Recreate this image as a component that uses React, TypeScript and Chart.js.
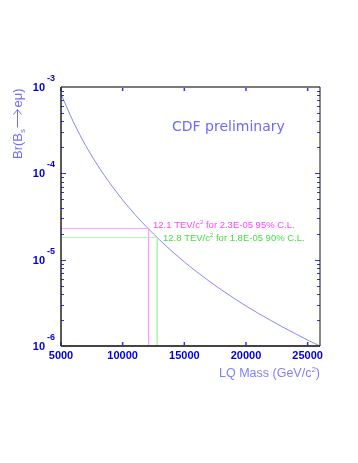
import React, { useEffect, useRef } from "react";
import { Chart, registerables } from "chart.js";

Chart.register(...registerables);

// LQ mass (GeV/c^2) and branching-ratio limit curve
const massGeV = [5000, 6000, 7000, 8000, 9000, 10000, 11000, 12000, 13000, 14000, 15000, 16000, 17000, 18000, 19000, 20000, 21000, 22000, 23000, 24000, 25000, 26000];
const brLimit = [8.3e-4, 3.95e-4, 2.1e-4, 1.22e-4, 7.56e-5, 4.92e-5, 3.33e-5, 2.34e-5, 1.69e-5, 1.25e-5, 9.41e-6, 7.24e-6, 5.65e-6, 4.48e-6, 3.59e-6, 2.91e-6, 2.39e-6, 1.98e-6, 1.65e-6, 1.39e-6, 1.17e-6, 1.0e-6];

// Limits
const limit95 = { mass: 12100, br: 2.3e-5 };
const limit90 = { mass: 12800, br: 1.8e-5 };

// Axis ticks
const xTicks = [5000, 10000, 15000, 20000, 25000];
const xTickLabels = ["5000", "10000", "15000", "20000", "25000"];
const yExponents = [-6, -5, -4, -3];

const X_MIN = 5000;
const X_MAX = 26000;
const Y_MIN = 1e-6;
const Y_MAX = 1e-3;

const TICK_BLUE = "#2f2fff";
const LABEL_BLUE = "#0000dd";

const decorPlugin = {
  id: "decor",
  afterDraw(chart: any) {
    const ctx: CanvasRenderingContext2D = chart.ctx;
    const xs = chart.scales.x;
    const ys = chart.scales.y;
    const { left, right, top, bottom } = chart.chartArea;
    ctx.save();

    // ticks
    ctx.strokeStyle = TICK_BLUE;
    ctx.lineWidth = 1;
    for (const e of yExponents) {
      for (let m = 1; m <= 9; m++) {
        if (e === -3 && m > 1) break;
        const v = m * Math.pow(10, e);
        const py = Math.round(ys.getPixelForValue(v)) + 0.5;
        const len = m === 1 ? 5 : 3;
        ctx.beginPath();
        ctx.moveTo(left, py);
        ctx.lineTo(left + len, py);
        ctx.moveTo(right, py);
        ctx.lineTo(right - len, py);
        ctx.stroke();
      }
    }
    ctx.lineWidth = 1.5;
    for (const t of xTicks) {
      const px = xs.getPixelForValue(t);
      ctx.beginPath();
      ctx.moveTo(px, bottom);
      ctx.lineTo(px, bottom - 4);
      ctx.moveTo(px, top);
      ctx.lineTo(px, top + 4);
      ctx.stroke();
    }

    // frame
    ctx.lineWidth = 2;
    ctx.strokeStyle = "#7a7a7a";
    ctx.beginPath();
    ctx.moveTo(left, top);
    ctx.lineTo(right, top);
    ctx.stroke();
    ctx.strokeStyle = "#444";
    ctx.beginPath();
    ctx.moveTo(left, bottom);
    ctx.lineTo(right, bottom);
    ctx.stroke();
    ctx.lineWidth = 1.5;
    ctx.strokeStyle = "#222";
    ctx.beginPath();
    ctx.moveTo(left, top);
    ctx.lineTo(left, bottom);
    ctx.stroke();
    ctx.lineWidth = 1;
    ctx.strokeStyle = "#111";
    ctx.beginPath();
    ctx.moveTo(right, top);
    ctx.lineTo(right, bottom);
    ctx.stroke();

    // y tick labels
    ctx.fillStyle = LABEL_BLUE;
    for (const e of yExponents) {
      const py = ys.getPixelForValue(Math.pow(10, e));
      ctx.font = "bold 11px 'Liberation Sans', Arial, sans-serif";
      ctx.textAlign = "right";
      ctx.textBaseline = "middle";
      ctx.fillText("10", 45, py + 1);
      ctx.font = "bold 9px 'Liberation Sans', Arial, sans-serif";
      ctx.textAlign = "left";
      ctx.textBaseline = "alphabetic";
      ctx.fillText(String(e), 47, py - 6);
    }
    // x tick labels
    ctx.font = "bold 11px 'Liberation Sans', Arial, sans-serif";
    ctx.textAlign = "center";
    ctx.textBaseline = "middle";
    xTicks.forEach((t, i) => {
      ctx.fillText(xTickLabels[i], xs.getPixelForValue(t), bottom + 10);
    });

    // x axis title
    ctx.fillStyle = "#7f7fff";
    ctx.textAlign = "left";
    ctx.textBaseline = "alphabetic";
    const t1 = "LQ Mass (GeV/c";
    const t2 = ")";
    ctx.font = "8px 'Liberation Sans', Arial, sans-serif";
    const supW = ctx.measureText("2").width;
    ctx.font = "12.5px 'Liberation Sans', Arial, sans-serif";
    const w1 = ctx.measureText(t1).width;
    const w2 = ctx.measureText(t2).width;
    const total = w1 + supW + w2;
    const x0 = right - total;
    const by = bottom + 31;
    ctx.fillText(t1, x0, by);
    ctx.font = "8px 'Liberation Sans', Arial, sans-serif";
    ctx.fillText("2", x0 + w1, by - 5);
    ctx.font = "12.5px 'Liberation Sans', Arial, sans-serif";
    ctx.fillText(t2, x0 + w1 + supW, by);

    // y axis title (rotated)
    ctx.save();
    ctx.translate(22, 159);
    ctx.rotate(-Math.PI / 2);
    ctx.fillStyle = "#7070ff";
    ctx.strokeStyle = "#7070ff";
    ctx.font = "13px 'Liberation Sans', Arial, sans-serif";
    let cx = 0;
    ctx.fillText("Br(B", cx, 0);
    cx += ctx.measureText("Br(B").width;
    ctx.font = "8px 'Liberation Sans', Arial, sans-serif";
    ctx.fillText("s", cx, 3);
    cx += ctx.measureText("s").width + 1.5;
    // arrow
    ctx.lineWidth = 1;
    ctx.beginPath();
    ctx.moveTo(cx, -4.5);
    ctx.lineTo(cx + 18, -4.5);
    ctx.moveTo(cx + 13, -8.5);
    ctx.lineTo(cx + 18, -4.5);
    ctx.lineTo(cx + 13, -0.5);
    ctx.stroke();
    cx += 20;
    ctx.font = "13px 'Liberation Sans', Arial, sans-serif";
    ctx.fillText("e\u03bc)", cx, 0);
    ctx.restore();

    // CDF preliminary
    ctx.fillStyle = "#6a6aff";
    ctx.font = "14px 'DejaVu Sans', sans-serif";
    ctx.textAlign = "left";
    ctx.textBaseline = "middle";
    ctx.fillText("CDF preliminary", 172, 127);

    // limit annotations
    const drawNote = (color: string, x: number, y: number, a: string, b: string) => {
      ctx.fillStyle = color;
      ctx.textBaseline = "middle";
      ctx.font = "9.5px 'Liberation Sans', Arial, sans-serif";
      ctx.fillText(a, x, y);
      const wa = ctx.measureText(a).width;
      ctx.font = "6px 'Liberation Sans', Arial, sans-serif";
      ctx.fillText("2", x + wa, y - 3);
      const ws = ctx.measureText("2").width;
      ctx.font = "9.5px 'Liberation Sans', Arial, sans-serif";
      ctx.fillText(b, x + wa + ws, y);
    };
    drawNote("#ff44ff", 153, ys.getPixelForValue(limit95.br) - 3, "12.1 TEV/c", " for 2.3E-05 95% C.L.");
    drawNote("#44dd44", 163, ys.getPixelForValue(limit90.br) + 1, "12.8 TEV/c", " for 1.8E-05 90% C.L.");

    ctx.restore();
  },
};

export default function App() {
  const ref = useRef<HTMLCanvasElement | null>(null);
  useEffect(() => {
    if (!ref.current) return;
    const chart = new Chart(ref.current, {
      type: "line",
      data: {
        datasets: [
          {
            label: "95% CL",
            data: [
              { x: X_MIN, y: limit95.br },
              { x: limit95.mass, y: limit95.br },
              { x: limit95.mass, y: Y_MIN },
            ],
            borderColor: "#ff9cff",
            borderWidth: 1,
            pointRadius: 0,
            tension: 0,
          },
          {
            label: "90% CL",
            data: [
              { x: X_MIN, y: limit90.br },
              { x: limit90.mass, y: limit90.br },
              { x: limit90.mass, y: Y_MIN },
            ],
            borderColor: "#b0f5b0",
            borderWidth: 1,
            pointRadius: 0,
            tension: 0,
          },
          {
            label: "limit",
            data: massGeV.map((m, i) => ({ x: m, y: brLimit[i] })),
            borderColor: "#8585ff",
            borderWidth: 1,
            pointRadius: 0,
            cubicInterpolationMode: "monotone",
          },
        ],
      },
      options: {
        responsive: false,
        animation: false,
        devicePixelRatio: 1,
        layout: { padding: { left: 61, right: 38, top: 87, bottom: 117 } },
        plugins: { legend: { display: false }, tooltip: { enabled: false } },
        scales: {
          x: {
            type: "linear",
            min: X_MIN,
            max: X_MAX,
            ticks: { display: false },
            grid: { display: false },
            border: { display: false },
            afterFit: (s: any) => { s.height = 0; },
          },
          y: {
            type: "logarithmic",
            min: Y_MIN,
            max: Y_MAX,
            ticks: { display: false },
            grid: { display: false },
            border: { display: false },
            afterFit: (s: any) => { s.width = 0; },
          },
        },
      },
      plugins: [decorPlugin],
    } as any);
    return () => chart.destroy();
  }, []);
  return (
    <div style={{ position: "absolute", left: 0, top: 0, width: 358, height: 463, background: "#fff" }}>
      <canvas ref={ref} width={358} height={463} style={{ width: 358, height: 463, display: "block" }} />
    </div>
  );
}
